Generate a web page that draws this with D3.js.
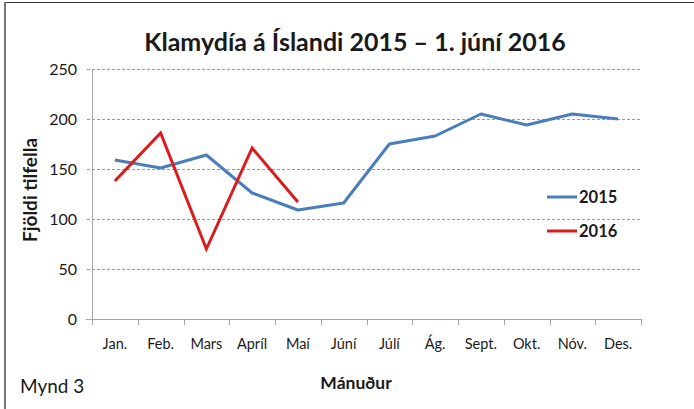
<!DOCTYPE html>
<html>
<head>
<meta charset="utf-8">
<script src="https://cdn.jsdelivr.net/npm/d3@7"></script>
<style>
  body { margin: 0; background: #fff; }
  text { font-family: Lato, "Open Sans", sans-serif; fill: #1a1a1a; }
</style>
</head>
<body>
<div id="chart"></div>
<script>
const months = ['Jan.', 'Feb.', 'Mars', 'Apríl', 'Maí', 'Júní', 'Júlí', 'Ág.', 'Sept.', 'Okt.', 'Nóv.', 'Des.'];
const cases2015 = [159, 151, 164, 126, 109, 116, 175, 183, 205, 194, 205, 200];
const cases2016 = [138, 186, 70, 171, 117];
const yTicks = [0, 50, 100, 150, 200, 250];

const width = 694, height = 409;
const margin = { left: 92, right: 53, top: 69, bottom: 90 };
const innerW = width - margin.left - margin.right;
const innerH = height - margin.top - margin.bottom;

const svg = d3.select('#chart')
    .append('svg')
    .attr('width', width)
    .attr('height', height);

// page frame (top and left edge)
svg.append('line').attr('x1', 4).attr('x2', width).attr('y1', 2.5).attr('y2', 2.5)
    .attr('stroke', '#333').attr('stroke-width', 1);
svg.append('line').attr('x1', 5).attr('x2', 5).attr('y1', 2).attr('y2', height)
    .attr('stroke', '#777').attr('stroke-width', 2);

const g = svg.append('g')
    .attr('transform', `translate(${margin.left}, ${margin.top})`);

const xBand = d3.scaleBand().domain(months).range([0, innerW]);
const xScale = m => xBand(m) + xBand.bandwidth() / 2;
const yScale = d3.scaleLinear().domain([0, 250]).range([innerH, 0]);

// gridlines
g.append('g')
    .selectAll('line')
    .data(yTicks.filter(d => d > 0))
    .enter()
    .append('line')
    .attr('x1', -5)
    .attr('x2', innerW)
    .attr('y1', d => yScale(d) + 0.5)
    .attr('y2', d => yScale(d) + 0.5)
    .attr('stroke', '#9a9a9a')
    .attr('stroke-dasharray', '3 2');

// y axis
const yAxis = g.append('g')
    .call(d3.axisLeft(yScale).tickValues(yTicks).tickSize(0).tickPadding(15));
yAxis.select('.domain').remove();
yAxis.selectAll('text').style('font-size', '16px').style('font-family', 'Lato, sans-serif').attr('fill', '#222');
g.append('line').attr('x1', 0.5).attr('x2', 0.5).attr('y1', 0).attr('y2', innerH)
    .attr('stroke', '#a6a6a6');

// x axis
g.append('line').attr('x1', -6).attr('x2', innerW).attr('y1', innerH + 0.5).attr('y2', innerH + 0.5)
    .attr('stroke', '#a6a6a6');
g.append('g')
    .selectAll('line')
    .data(months.concat(['end']))
    .enter()
    .append('line')
    .attr('x1', (d, i) => Math.round(i * xBand.bandwidth()) + 0.5)
    .attr('x2', (d, i) => Math.round(i * xBand.bandwidth()) + 0.5)
    .attr('y1', innerH)
    .attr('y2', innerH + 6)
    .attr('stroke', '#a6a6a6');
g.append('g')
    .selectAll('text')
    .data(months)
    .enter()
    .append('text')
    .attr('x', d => xScale(d))
    .attr('y', innerH + 30)
    .attr('text-anchor', 'middle')
    .style('font-size', '14.5px')
    .text(d => d);

// lines
const line = d3.line()
    .x((d, i) => xScale(months[i]))
    .y(d => yScale(d));

g.append('path')
    .datum(cases2015)
    .attr('fill', 'none')
    .attr('stroke', '#4a7ebb')
    .attr('stroke-width', 3)
    .attr('stroke-linejoin', 'round')
    .attr('d', line);

g.append('path')
    .datum(cases2016)
    .attr('fill', 'none')
    .attr('stroke', '#dc1c1c')
    .attr('stroke-width', 3)
    .attr('stroke-linejoin', 'miter')
    .attr('d', line);

// legend
const keys = ['2015', '2016'];
const colors = ['#4a7ebb', '#dc1c1c'];
const legend = svg.selectAll('.legend')
    .data(keys)
    .enter()
    .append('g')
    .attr('class', 'legend')
    .attr('transform', (d, i) => `translate(547, ${197 + i * 34})`);
legend.append('line')
    .attr('x1', 0).attr('x2', 30)
    .attr('stroke', (d, i) => colors[i])
    .attr('stroke-width', 3);
legend.append('text')
    .attr('x', 32)
    .attr('y', 6)
    .style('font-size', '16.5px')
    .style('font-weight', 'bold')
    .text(d => d);

// titles
svg.append('text')
    .attr('x', 355)
    .attr('y', 51)
    .attr('text-anchor', 'middle')
    .style('font-size', '25px')
    .style('font-weight', 'bold')
    .text('Klamydía á Íslandi 2015 – 1. júní 2016');

svg.append('text')
    .attr('transform', 'translate(37, 190) rotate(-90)')
    .attr('text-anchor', 'middle')
    .style('font-size', '19px')
    .style('font-weight', 'bold')
    .text('Fjöldi tilfella');

svg.append('text')
    .attr('x', 356)
    .attr('y', 389)
    .attr('text-anchor', 'middle')
    .style('font-size', '17.5px')
    .style('font-weight', 'bold')
    .text('Mánuður');

svg.append('text')
    .attr('x', 20)
    .attr('y', 393)
    .style('font-size', '19px')
    .text('Mynd 3');
</script>
</body>
</html>
